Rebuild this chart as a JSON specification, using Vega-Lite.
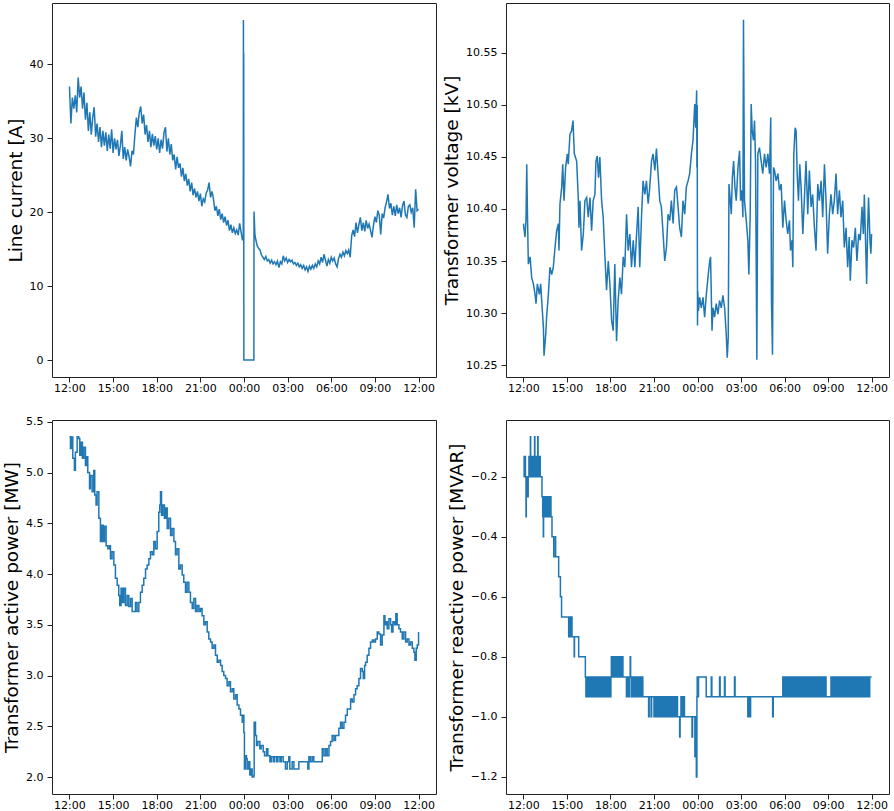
{
"$schema": "https://vega.github.io/schema/vega-lite/v6.json",
"padding": {"left": 2, "top": 2, "right": 0, "bottom": 0},
"background": "white",
"config": {
 "font": "DejaVu Sans",
 "view": {"stroke": "#222222", "strokeWidth": 1},
 "axis": {"grid": false, "domain": false, "tickColor": "#222222", "tickSize": 5, "labelFont": "DejaVu Sans", "labelFontSize": 11, "labelColor": "#000000", "labelFlush": false, "labelOverlap": false, "titleFont": "DejaVu Sans", "titleFontSize": 18.5, "titleFontWeight": "normal", "titleColor": "#000000", "titlePadding": 4},
 "axisX": {"labelPadding": 0},
 "axisY": {"labelPadding": 4},
 "line": {"color": "#1f77b4", "strokeWidth": 1.5, "clip": true}
},
"columns": 2,
"spacing": {"row": 21, "column": 5},
"datasets": {
"I": [
{"t":0.0,"v":37.0},{"t":0.1,"v":32.0},{"t":0.2,"v":35.5},{"t":0.3,"v":34.0},{"t":0.4,"v":35.8},{"t":0.5,"v":33.5},{"t":0.6,"v":38.2},{"t":0.7,"v":35.5},{"t":0.8,"v":37.0},{"t":0.9,"v":34.0},
{"t":1.0,"v":36.2},{"t":1.1,"v":32.5},{"t":1.2,"v":34.8},{"t":1.3,"v":31.0},{"t":1.4,"v":33.5},{"t":1.5,"v":30.5},{"t":1.6,"v":32.8},{"t":1.7,"v":34.2},{"t":1.8,"v":30.2},{"t":1.9,"v":32.0},
{"t":2.0,"v":29.5},{"t":2.1,"v":31.5},{"t":2.2,"v":28.8},{"t":2.3,"v":31.0},{"t":2.4,"v":29.0},{"t":2.5,"v":30.8},{"t":2.6,"v":28.3},{"t":2.7,"v":30.5},{"t":2.8,"v":28.6},{"t":2.9,"v":31.2},
{"t":3.0,"v":28.0},{"t":3.1,"v":30.0},{"t":3.2,"v":28.5},{"t":3.3,"v":29.8},{"t":3.4,"v":27.6},{"t":3.5,"v":29.0},{"t":3.6,"v":31.0},{"t":3.7,"v":27.2},{"t":3.8,"v":28.8},{"t":3.9,"v":27.0},
{"t":4.0,"v":28.5},{"t":4.1,"v":27.5},{"t":4.2,"v":26.2},{"t":4.3,"v":28.3},{"t":4.4,"v":27.8},{"t":4.5,"v":30.5},{"t":4.6,"v":32.8},{"t":4.7,"v":31.5},{"t":4.8,"v":33.5},{"t":4.9,"v":34.3},
{"t":5.0,"v":32.0},{"t":5.1,"v":33.2},{"t":5.2,"v":30.5},{"t":5.3,"v":31.8},{"t":5.4,"v":29.5},{"t":5.5,"v":31.0},{"t":5.6,"v":28.8},{"t":5.7,"v":30.6},{"t":5.8,"v":29.0},{"t":5.9,"v":30.3},
{"t":6.0,"v":28.5},{"t":6.1,"v":30.0},{"t":6.2,"v":28.0},{"t":6.3,"v":29.8},{"t":6.4,"v":28.6},{"t":6.5,"v":30.8},{"t":6.6,"v":31.5},{"t":6.7,"v":28.2},{"t":6.8,"v":30.0},{"t":6.9,"v":27.8},
{"t":7.0,"v":29.2},{"t":7.1,"v":27.0},{"t":7.2,"v":27.8},{"t":7.3,"v":25.8},{"t":7.4,"v":27.5},{"t":7.5,"v":26.0},{"t":7.6,"v":26.6},{"t":7.7,"v":24.8},{"t":7.8,"v":26.0},{"t":7.9,"v":24.2},
{"t":8.0,"v":25.2},{"t":8.1,"v":23.6},{"t":8.2,"v":24.5},{"t":8.3,"v":22.8},{"t":8.4,"v":24.0},{"t":8.5,"v":22.3},{"t":8.6,"v":23.2},{"t":8.7,"v":22.0},{"t":8.8,"v":22.8},{"t":8.9,"v":21.5},
{"t":9.0,"v":22.5},{"t":9.1,"v":20.8},{"t":9.2,"v":21.8},{"t":9.3,"v":21.4},{"t":9.4,"v":22.6},{"t":9.5,"v":23.0},{"t":9.6,"v":24.0},{"t":9.7,"v":22.0},{"t":9.8,"v":22.8},{"t":9.9,"v":21.8},
{"t":10.0,"v":20.2},{"t":10.1,"v":20.8},{"t":10.2,"v":19.5},{"t":10.3,"v":20.4},{"t":10.4,"v":19.0},{"t":10.5,"v":19.8},{"t":10.6,"v":18.6},{"t":10.7,"v":19.4},{"t":10.8,"v":18.2},{"t":10.9,"v":18.9},
{"t":11.0,"v":17.5},{"t":11.1,"v":18.3},{"t":11.2,"v":17.2},{"t":11.3,"v":17.9},{"t":11.4,"v":17.1},{"t":11.5,"v":17.6},{"t":11.6,"v":16.9},{"t":11.7,"v":18.5},{"t":11.8,"v":17.3},{"t":11.9,"v":16.2},
{"t":11.95,"v":16.5},{"t":11.96,"v":46.0},{"t":11.97,"v":17.0},{"t":11.98,"v":41.5},{"t":11.99,"v":0},{"t":12.68,"v":0},{"t":12.69,"v":20.1},{"t":12.75,"v":17.0},{"t":12.8,"v":16.4},{"t":12.9,"v":15.5},
{"t":13.0,"v":15.1},{"t":13.1,"v":14.9},{"t":13.2,"v":14.2},{"t":13.3,"v":13.9},{"t":13.4,"v":13.6},{"t":13.5,"v":14.0},{"t":13.6,"v":13.4},{"t":13.7,"v":13.6},{"t":13.8,"v":13.1},{"t":13.9,"v":13.5},
{"t":14.0,"v":13.0},{"t":14.1,"v":13.3},{"t":14.2,"v":12.9},{"t":14.3,"v":13.4},{"t":14.4,"v":12.5},{"t":14.5,"v":13.3},{"t":14.6,"v":13.0},{"t":14.7,"v":14.1},{"t":14.8,"v":13.4},{"t":14.9,"v":13.8},
{"t":15.0,"v":13.2},{"t":15.1,"v":13.6},{"t":15.2,"v":13.3},{"t":15.3,"v":13.5},{"t":15.4,"v":13.0},{"t":15.5,"v":13.2},{"t":15.6,"v":12.8},{"t":15.7,"v":13.1},{"t":15.8,"v":12.6},{"t":15.9,"v":12.9},
{"t":16.0,"v":12.4},{"t":16.1,"v":12.8},{"t":16.2,"v":12.2},{"t":16.3,"v":12.6},{"t":16.4,"v":12.0},{"t":16.5,"v":12.7},{"t":16.6,"v":12.3},{"t":16.7,"v":12.8},{"t":16.8,"v":12.4},{"t":16.9,"v":13.0},
{"t":17.0,"v":12.6},{"t":17.1,"v":13.4},{"t":17.2,"v":13.0},{"t":17.3,"v":13.9},{"t":17.4,"v":13.2},{"t":17.5,"v":14.3},{"t":17.6,"v":13.5},{"t":17.7,"v":12.7},{"t":17.8,"v":13.6},{"t":17.9,"v":13.1},
{"t":18.0,"v":13.9},{"t":18.1,"v":13.4},{"t":18.2,"v":13.8},{"t":18.3,"v":13.0},{"t":18.4,"v":12.6},{"t":18.5,"v":13.7},{"t":18.6,"v":14.3},{"t":18.7,"v":13.9},{"t":18.8,"v":14.6},{"t":18.9,"v":14.1},
{"t":19.0,"v":14.8},{"t":19.1,"v":14.4},{"t":19.2,"v":14.9},{"t":19.3,"v":13.9},{"t":19.4,"v":16.8},{"t":19.5,"v":17.6},{"t":19.6,"v":16.7},{"t":19.7,"v":18.6},{"t":19.8,"v":17.2},{"t":19.9,"v":18.3},
{"t":20.0,"v":19.3},{"t":20.1,"v":17.5},{"t":20.2,"v":18.6},{"t":20.3,"v":17.4},{"t":20.4,"v":18.9},{"t":20.5,"v":17.8},{"t":20.6,"v":18.4},{"t":20.7,"v":17.5},{"t":20.8,"v":16.6},{"t":20.9,"v":18.2},
{"t":21.0,"v":19.4},{"t":21.1,"v":18.6},{"t":21.2,"v":20.2},{"t":21.3,"v":19.6},{"t":21.4,"v":17.0},{"t":21.5,"v":19.8},{"t":21.6,"v":19.2},{"t":21.7,"v":20.6},{"t":21.8,"v":21.4},{"t":21.9,"v":22.4},
{"t":22.0,"v":20.5},{"t":22.1,"v":21.2},{"t":22.2,"v":19.6},{"t":22.3,"v":20.8},{"t":22.4,"v":19.5},{"t":22.5,"v":21.0},{"t":22.6,"v":19.8},{"t":22.7,"v":20.6},{"t":22.8,"v":19.3},{"t":22.9,"v":20.9},
{"t":23.0,"v":21.5},{"t":23.1,"v":19.6},{"t":23.2,"v":19.3},{"t":23.3,"v":20.8},{"t":23.4,"v":21.0},{"t":23.5,"v":20.0},{"t":23.6,"v":20.6},{"t":23.7,"v":17.9},{"t":23.8,"v":23.1},{"t":23.9,"v":20.2},{"t":24.0,"v":20.4}
],
"V": [
{"t":0.0,"v":10.386},{"t":0.11,"v":10.373},{"t":0.18,"v":10.39},{"t":0.23,"v":10.443},{"t":0.28,"v":10.395},{"t":0.34,"v":10.347},{"t":0.46,"v":10.354},{"t":0.57,"v":10.334},{"t":0.69,"v":10.328},{"t":0.8,"v":10.318},
{"t":0.87,"v":10.309},{"t":0.96,"v":10.328},{"t":1.1,"v":10.318},{"t":1.19,"v":10.328},{"t":1.26,"v":10.312},{"t":1.38,"v":10.286},{"t":1.42,"v":10.259},{"t":1.54,"v":10.28},{"t":1.6,"v":10.296},{"t":1.72,"v":10.318},
{"t":1.83,"v":10.344},{"t":1.95,"v":10.337},{"t":2.06,"v":10.344},{"t":2.18,"v":10.363},{"t":2.29,"v":10.379},{"t":2.41,"v":10.386},{"t":2.45,"v":10.36},{"t":2.52,"v":10.405},{"t":2.64,"v":10.421},{"t":2.71,"v":10.443},
{"t":2.8,"v":10.408},{"t":2.91,"v":10.44},{"t":3.03,"v":10.453},{"t":3.09,"v":10.443},{"t":3.21,"v":10.472},{"t":3.32,"v":10.475},{"t":3.42,"v":10.485},{"t":3.51,"v":10.453},{"t":3.67,"v":10.446},{"t":3.78,"v":10.411},
{"t":3.83,"v":10.382},{"t":3.9,"v":10.408},{"t":4.01,"v":10.36},{"t":4.13,"v":10.376},{"t":4.24,"v":10.408},{"t":4.36,"v":10.411},{"t":4.47,"v":10.392},{"t":4.59,"v":10.411},{"t":4.7,"v":10.379},{"t":4.81,"v":10.408},
{"t":4.93,"v":10.414},{"t":5.0,"v":10.446},{"t":5.09,"v":10.451},{"t":5.18,"v":10.43},{"t":5.27,"v":10.45},{"t":5.39,"v":10.408},{"t":5.5,"v":10.392},{"t":5.62,"v":10.354},{"t":5.73,"v":10.322},{"t":5.85,"v":10.35},
{"t":5.96,"v":10.328},{"t":6.08,"v":10.293},{"t":6.19,"v":10.283},{"t":6.3,"v":10.347},{"t":6.42,"v":10.273},{"t":6.53,"v":10.312},{"t":6.65,"v":10.334},{"t":6.76,"v":10.318},{"t":6.88,"v":10.354},{"t":6.99,"v":10.344},
{"t":7.11,"v":10.395},{"t":7.22,"v":10.36},{"t":7.34,"v":10.376},{"t":7.45,"v":10.344},{"t":7.57,"v":10.37},{"t":7.68,"v":10.344},{"t":7.79,"v":10.373},{"t":7.91,"v":10.402},{"t":8.02,"v":10.344},{"t":8.14,"v":10.392},
{"t":8.25,"v":10.427},{"t":8.37,"v":10.414},{"t":8.48,"v":10.427},{"t":8.6,"v":10.405},{"t":8.71,"v":10.421},{"t":8.83,"v":10.446},{"t":8.94,"v":10.453},{"t":9.06,"v":10.437},{"t":9.17,"v":10.458},{"t":9.28,"v":10.434},
{"t":9.4,"v":10.408},{"t":9.51,"v":10.402},{"t":9.63,"v":10.376},{"t":9.74,"v":10.35},{"t":9.86,"v":10.363},{"t":9.97,"v":10.395},{"t":10.09,"v":10.389},{"t":10.2,"v":10.408},{"t":10.32,"v":10.386},{"t":10.43,"v":10.418},
{"t":10.55,"v":10.421},{"t":10.66,"v":10.402},{"t":10.77,"v":10.382},{"t":10.89,"v":10.373},{"t":11.0,"v":10.408},{"t":11.12,"v":10.395},{"t":11.23,"v":10.421},{"t":11.35,"v":10.427},{"t":11.46,"v":10.434},{"t":11.58,"v":10.453},
{"t":11.69,"v":10.466},{"t":11.81,"v":10.501},{"t":11.88,"v":10.478},{"t":11.94,"v":10.514},{"t":11.96,"v":10.44},{"t":11.98,"v":10.5},{"t":12.0,"v":10.288},{"t":12.02,"v":10.321},{"t":12.06,"v":10.302},{"t":12.15,"v":10.315},
{"t":12.26,"v":10.305},{"t":12.38,"v":10.315},{"t":12.49,"v":10.296},{"t":12.61,"v":10.318},{"t":12.72,"v":10.334},{"t":12.84,"v":10.35},{"t":12.9,"v":10.354},{"t":13.0,"v":10.283},{"t":13.07,"v":10.305},{"t":13.18,"v":10.296},
{"t":13.29,"v":10.309},{"t":13.41,"v":10.299},{"t":13.52,"v":10.312},{"t":13.64,"v":10.305},{"t":13.75,"v":10.317},{"t":13.87,"v":10.305},{"t":13.98,"v":10.28},{"t":14.05,"v":10.257},{"t":14.12,"v":10.277},{"t":14.17,"v":10.424},
{"t":14.26,"v":10.408},{"t":14.33,"v":10.395},{"t":14.4,"v":10.43},{"t":14.49,"v":10.446},{"t":14.58,"v":10.421},{"t":14.67,"v":10.408},{"t":14.79,"v":10.44},{"t":14.9,"v":10.456},{"t":14.97,"v":10.408},{"t":15.06,"v":10.418},
{"t":15.13,"v":10.392},{"t":15.17,"v":10.582},{"t":15.24,"v":10.408},{"t":15.36,"v":10.389},{"t":15.47,"v":10.37},{"t":15.54,"v":10.337},{"t":15.63,"v":10.392},{"t":15.7,"v":10.501},{"t":15.77,"v":10.475},{"t":15.86,"v":10.466},
{"t":15.93,"v":10.485},{"t":16.0,"v":10.446},{"t":16.09,"v":10.255},{"t":16.16,"v":10.453},{"t":16.27,"v":10.459},{"t":16.39,"v":10.446},{"t":16.5,"v":10.434},{"t":16.62,"v":10.453},{"t":16.73,"v":10.44},{"t":16.85,"v":10.453},
{"t":16.96,"v":10.434},{"t":17.05,"v":10.488},{"t":17.1,"v":10.312},{"t":17.17,"v":10.26},{"t":17.24,"v":10.44},{"t":17.31,"v":10.437},{"t":17.42,"v":10.427},{"t":17.54,"v":10.434},{"t":17.65,"v":10.418},{"t":17.77,"v":10.424},
{"t":17.88,"v":10.382},{"t":18.0,"v":10.408},{"t":18.11,"v":10.389},{"t":18.22,"v":10.376},{"t":18.34,"v":10.389},{"t":18.41,"v":10.36},{"t":18.52,"v":10.37},{"t":18.57,"v":10.344},{"t":18.64,"v":10.453},{"t":18.73,"v":10.478},
{"t":18.8,"v":10.475},{"t":18.87,"v":10.434},{"t":18.96,"v":10.408},{"t":19.05,"v":10.443},{"t":19.14,"v":10.421},{"t":19.26,"v":10.376},{"t":19.37,"v":10.411},{"t":19.48,"v":10.446},{"t":19.6,"v":10.395},{"t":19.71,"v":10.437},
{"t":19.83,"v":10.402},{"t":19.94,"v":10.414},{"t":20.06,"v":10.382},{"t":20.17,"v":10.36},{"t":20.29,"v":10.424},{"t":20.4,"v":10.408},{"t":20.52,"v":10.427},{"t":20.63,"v":10.392},{"t":20.75,"v":10.443},{"t":20.86,"v":10.408},
{"t":20.97,"v":10.357},{"t":21.09,"v":10.395},{"t":21.2,"v":10.414},{"t":21.32,"v":10.395},{"t":21.43,"v":10.408},{"t":21.55,"v":10.434},{"t":21.66,"v":10.395},{"t":21.78,"v":10.418},{"t":21.89,"v":10.392},{"t":22.01,"v":10.408},
{"t":22.12,"v":10.363},{"t":22.24,"v":10.382},{"t":22.35,"v":10.344},{"t":22.46,"v":10.373},{"t":22.53,"v":10.331},{"t":22.65,"v":10.37},{"t":22.76,"v":10.363},{"t":22.88,"v":10.382},{"t":22.99,"v":10.35},{"t":23.11,"v":10.376},
{"t":23.22,"v":10.37},{"t":23.34,"v":10.402},{"t":23.43,"v":10.376},{"t":23.5,"v":10.414},{"t":23.57,"v":10.376},{"t":23.66,"v":10.328},{"t":23.73,"v":10.382},{"t":23.79,"v":10.411},{"t":23.89,"v":10.37},{"t":23.95,"v":10.357},{"t":24.0,"v":10.376}
],
"P": [
{"t":0.0,"v":5.352},{"t":0.07,"v":5.237},{"t":0.14,"v":5.35},{"t":0.23,"v":5.14},{"t":0.34,"v":5.023},{"t":0.41,"v":5.2},{"t":0.53,"v":5.352},{"t":0.64,"v":5.336},{"t":0.71,"v":5.17},{"t":0.8,"v":5.3},
{"t":0.89,"v":5.14},{"t":0.99,"v":5.25},{"t":1.1,"v":5.07},{"t":1.17,"v":5.155},{"t":1.26,"v":5.0},{"t":1.38,"v":4.84},{"t":1.44,"v":4.97},{"t":1.56,"v":4.81},{"t":1.67,"v":5.02},{"t":1.74,"v":4.78},
{"t":1.83,"v":4.68},{"t":1.9,"v":4.81},{"t":2.02,"v":4.55},{"t":2.13,"v":4.32},{"t":2.22,"v":4.48},{"t":2.32,"v":4.32},{"t":2.41,"v":4.47},{"t":2.52,"v":4.28},{"t":2.64,"v":4.25},{"t":2.75,"v":4.28},
{"t":2.82,"v":4.15},{"t":2.93,"v":4.22},{"t":3.05,"v":4.09},{"t":3.16,"v":3.96},{"t":3.28,"v":3.89},{"t":3.39,"v":3.79},{"t":3.46,"v":3.69},{"t":3.55,"v":3.86},{"t":3.65,"v":3.72},{"t":3.74,"v":3.86},
{"t":3.85,"v":3.69},{"t":3.97,"v":3.79},{"t":4.08,"v":3.68},{"t":4.2,"v":3.76},{"t":4.31,"v":3.63},{"t":4.42,"v":3.63},{"t":4.54,"v":3.72},{"t":4.65,"v":3.63},{"t":4.77,"v":3.72},{"t":4.88,"v":3.82},
{"t":5.0,"v":3.89},{"t":5.11,"v":3.96},{"t":5.23,"v":4.05},{"t":5.34,"v":4.09},{"t":5.46,"v":4.15},{"t":5.57,"v":4.22},{"t":5.69,"v":4.19},{"t":5.8,"v":4.32},{"t":5.91,"v":4.25},{"t":6.03,"v":4.42},
{"t":6.14,"v":4.61},{"t":6.21,"v":4.68},{"t":6.26,"v":4.81},{"t":6.33,"v":4.58},{"t":6.42,"v":4.68},{"t":6.53,"v":4.55},{"t":6.63,"v":4.65},{"t":6.72,"v":4.45},{"t":6.83,"v":4.55},{"t":6.95,"v":4.38},
{"t":7.06,"v":4.45},{"t":7.18,"v":4.32},{"t":7.29,"v":4.19},{"t":7.4,"v":4.25},{"t":7.52,"v":4.05},{"t":7.63,"v":4.09},{"t":7.75,"v":3.99},{"t":7.86,"v":3.92},{"t":7.98,"v":3.82},{"t":8.09,"v":3.92},
{"t":8.21,"v":3.82},{"t":8.32,"v":3.72},{"t":8.44,"v":3.66},{"t":8.55,"v":3.76},{"t":8.67,"v":3.63},{"t":8.78,"v":3.69},{"t":8.9,"v":3.63},{"t":9.01,"v":3.66},{"t":9.12,"v":3.59},{"t":9.24,"v":3.5},
{"t":9.35,"v":3.53},{"t":9.47,"v":3.43},{"t":9.58,"v":3.36},{"t":9.7,"v":3.33},{"t":9.81,"v":3.27},{"t":9.93,"v":3.3},{"t":10.04,"v":3.2},{"t":10.16,"v":3.13},{"t":10.27,"v":3.15},{"t":10.39,"v":3.1},
{"t":10.5,"v":3.04},{"t":10.61,"v":3.0},{"t":10.73,"v":2.97},{"t":10.84,"v":2.9},{"t":10.96,"v":2.94},{"t":11.07,"v":2.84},{"t":11.19,"v":2.87},{"t":11.3,"v":2.77},{"t":11.42,"v":2.81},{"t":11.53,"v":2.71},
{"t":11.65,"v":2.67},{"t":11.76,"v":2.61},{"t":11.88,"v":2.54},{"t":11.94,"v":2.61},{"t":11.99,"v":2.44},{"t":12.03,"v":2.08},{"t":12.1,"v":2.21},{"t":12.17,"v":2.18},{"t":12.22,"v":2.08},{"t":12.33,"v":2.15},
{"t":12.4,"v":2.02},{"t":12.49,"v":2.08},{"t":12.56,"v":2.0},{"t":12.68,"v":2.02},{"t":12.7,"v":2.54},{"t":12.79,"v":2.41},{"t":12.86,"v":2.31},{"t":12.95,"v":2.35},{"t":13.09,"v":2.28},{"t":13.18,"v":2.31},
{"t":13.32,"v":2.25},{"t":13.41,"v":2.21},{"t":13.55,"v":2.28},{"t":13.64,"v":2.21},{"t":13.78,"v":2.15},{"t":13.87,"v":2.2},{"t":14.01,"v":2.15},{"t":14.1,"v":2.2},{"t":14.24,"v":2.15},{"t":14.33,"v":2.2},
{"t":14.47,"v":2.15},{"t":14.56,"v":2.2},{"t":14.69,"v":2.15},{"t":14.85,"v":2.08},{"t":14.97,"v":2.15},{"t":15.08,"v":2.2},{"t":15.15,"v":2.08},{"t":15.31,"v":2.15},{"t":15.43,"v":2.08},{"t":15.66,"v":2.08},
{"t":15.77,"v":2.15},{"t":16.12,"v":2.15},{"t":16.35,"v":2.15},{"t":16.39,"v":2.08},{"t":16.46,"v":2.2},{"t":16.57,"v":2.15},{"t":16.69,"v":2.2},{"t":16.8,"v":2.15},{"t":17.26,"v":2.15},{"t":17.38,"v":2.28},
{"t":17.49,"v":2.21},{"t":17.61,"v":2.28},{"t":17.72,"v":2.21},{"t":17.84,"v":2.31},{"t":17.95,"v":2.35},{"t":18.06,"v":2.41},{"t":18.18,"v":2.36},{"t":18.29,"v":2.41},{"t":18.41,"v":2.41},{"t":18.52,"v":2.48},
{"t":18.64,"v":2.54},{"t":18.75,"v":2.48},{"t":18.87,"v":2.54},{"t":18.98,"v":2.61},{"t":19.1,"v":2.67},{"t":19.21,"v":2.67},{"t":19.33,"v":2.77},{"t":19.44,"v":2.74},{"t":19.56,"v":2.81},{"t":19.67,"v":2.87},
{"t":19.78,"v":2.9},{"t":19.9,"v":2.97},{"t":20.01,"v":3.07},{"t":20.13,"v":3.04},{"t":20.2,"v":2.97},{"t":20.29,"v":3.1},{"t":20.36,"v":3.13},{"t":20.47,"v":3.2},{"t":20.59,"v":3.27},{"t":20.7,"v":3.33},
{"t":20.82,"v":3.35},{"t":20.93,"v":3.33},{"t":21.04,"v":3.36},{"t":21.16,"v":3.43},{"t":21.27,"v":3.41},{"t":21.39,"v":3.3},{"t":21.5,"v":3.4},{"t":21.62,"v":3.59},{"t":21.69,"v":3.5},{"t":21.78,"v":3.53},
{"t":21.85,"v":3.46},{"t":21.96,"v":3.56},{"t":22.08,"v":3.5},{"t":22.15,"v":3.43},{"t":22.24,"v":3.53},{"t":22.35,"v":3.5},{"t":22.44,"v":3.61},{"t":22.53,"v":3.5},{"t":22.65,"v":3.46},{"t":22.76,"v":3.43},
{"t":22.88,"v":3.36},{"t":22.99,"v":3.43},{"t":23.11,"v":3.33},{"t":23.22,"v":3.36},{"t":23.34,"v":3.3},{"t":23.45,"v":3.33},{"t":23.57,"v":3.27},{"t":23.68,"v":3.23},{"t":23.75,"v":3.15},{"t":23.84,"v":3.27},{"t":23.91,"v":3.3},{"t":24.0,"v":3.43}
],
"Q": [
{"t":0.0,"v":-0.133},{"t":0.05,"v":-0.2},{"t":0.1,"v":-0.133},{"t":0.14,"v":-0.2},{"t":0.18,"v":-0.333},{"t":0.2,"v":-0.267},{"t":0.24,"v":-0.2},{"t":0.3,"v":-0.267},{"t":0.33,"v":-0.2},{"t":0.38,"v":-0.133},
{"t":0.42,"v":-0.2},{"t":0.46,"v":-0.133},{"t":0.48,"v":-0.067},{"t":0.5,"v":-0.133},{"t":0.54,"v":-0.2},{"t":0.58,"v":-0.133},{"t":0.62,"v":-0.2},{"t":0.66,"v":-0.133},{"t":0.7,"v":-0.2},{"t":0.74,"v":-0.133},
{"t":0.77,"v":-0.067},{"t":0.79,"v":-0.133},{"t":0.84,"v":-0.2},{"t":0.88,"v":-0.133},{"t":0.92,"v":-0.2},{"t":0.96,"v":-0.133},{"t":0.99,"v":-0.067},{"t":1.01,"v":-0.133},{"t":1.06,"v":-0.2},{"t":1.12,"v":-0.133},
{"t":1.16,"v":-0.2},{"t":1.28,"v":-0.267},{"t":1.33,"v":-0.333},{"t":1.37,"v":-0.4},{"t":1.39,"v":-0.267},{"t":1.44,"v":-0.333},{"t":1.48,"v":-0.267},{"t":1.53,"v":-0.333},{"t":1.57,"v":-0.267},{"t":1.62,"v":-0.333},
{"t":1.66,"v":-0.267},{"t":1.71,"v":-0.333},{"t":1.75,"v":-0.267},{"t":1.8,"v":-0.333},{"t":1.84,"v":-0.267},{"t":1.9,"v":-0.333},{"t":1.97,"v":-0.4},{"t":2.09,"v":-0.467},{"t":2.2,"v":-0.4},{"t":2.22,"v":-0.467},
{"t":2.43,"v":-0.533},{"t":2.55,"v":-0.6},{"t":2.63,"v":-0.667},{"t":3.12,"v":-0.733},{"t":3.16,"v":-0.667},{"t":3.2,"v":-0.733},{"t":3.24,"v":-0.667},{"t":3.28,"v":-0.733},{"t":3.31,"v":-0.667},{"t":3.35,"v":-0.733},
{"t":3.5,"v":-0.8},{"t":3.52,"v":-0.733},{"t":3.81,"v":-0.8},{"t":4.27,"v":-0.867},{"t":4.31,"v":-0.933},{"t":4.35,"v":-0.867},{"t":4.39,"v":-0.933},{"t":4.44,"v":-0.867},{"t":4.48,"v":-0.933},{"t":4.53,"v":-0.867},
{"t":4.56,"v":-0.933},{"t":4.6,"v":-0.867},{"t":4.65,"v":-0.933},{"t":4.69,"v":-0.867},{"t":4.72,"v":-0.933},{"t":4.76,"v":-0.867},{"t":4.8,"v":-0.933},{"t":4.85,"v":-0.867},{"t":4.89,"v":-0.933},{"t":4.92,"v":-0.867},
{"t":4.96,"v":-0.933},{"t":5.0,"v":-0.867},{"t":5.05,"v":-0.933},{"t":5.09,"v":-0.867},{"t":5.13,"v":-0.933},{"t":5.17,"v":-0.867},{"t":5.21,"v":-0.933},{"t":5.26,"v":-0.867},{"t":5.3,"v":-0.933},{"t":5.34,"v":-0.867},
{"t":5.38,"v":-0.933},{"t":5.43,"v":-0.867},{"t":5.47,"v":-0.933},{"t":5.51,"v":-0.867},{"t":5.55,"v":-0.933},{"t":5.6,"v":-0.867},{"t":5.64,"v":-0.933},{"t":5.68,"v":-0.867},{"t":5.72,"v":-0.933},{"t":5.77,"v":-0.867},
{"t":5.81,"v":-0.933},{"t":5.85,"v":-0.867},{"t":5.9,"v":-0.933},{"t":5.94,"v":-0.867},{"t":5.98,"v":-0.933},{"t":6.03,"v":-0.867},{"t":6.06,"v":-0.8},{"t":6.1,"v":-0.867},{"t":6.14,"v":-0.8},{"t":6.18,"v":-0.867},
{"t":6.22,"v":-0.8},{"t":6.27,"v":-0.867},{"t":6.31,"v":-0.8},{"t":6.35,"v":-0.867},{"t":6.39,"v":-0.8},{"t":6.44,"v":-0.867},{"t":6.48,"v":-0.8},{"t":6.52,"v":-0.867},{"t":6.56,"v":-0.8},{"t":6.6,"v":-0.867},
{"t":6.65,"v":-0.8},{"t":6.69,"v":-0.867},{"t":6.73,"v":-0.8},{"t":6.78,"v":-0.867},{"t":6.82,"v":-0.8},{"t":6.86,"v":-0.867},{"t":7.1,"v":-0.933},{"t":7.14,"v":-0.867},{"t":7.18,"v":-0.933},{"t":7.22,"v":-0.867},
{"t":7.26,"v":-0.933},{"t":7.3,"v":-0.867},{"t":7.36,"v":-0.8},{"t":7.39,"v":-0.867},{"t":7.43,"v":-0.933},{"t":7.47,"v":-0.867},{"t":7.52,"v":-0.933},{"t":7.56,"v":-0.867},{"t":7.6,"v":-0.933},{"t":7.65,"v":-0.867},
{"t":7.69,"v":-0.933},{"t":7.74,"v":-0.867},{"t":7.78,"v":-0.933},{"t":7.83,"v":-0.867},{"t":7.87,"v":-0.933},{"t":7.92,"v":-0.867},{"t":7.96,"v":-0.933},{"t":8.01,"v":-0.867},{"t":8.05,"v":-0.933},{"t":8.1,"v":-0.867},
{"t":8.14,"v":-0.933},{"t":8.19,"v":-0.867},{"t":8.23,"v":-0.933},{"t":8.63,"v":-1.0},{"t":8.67,"v":-0.933},{"t":8.8,"v":-1.0},{"t":8.84,"v":-0.933},{"t":9.0,"v":-1.0},{"t":9.04,"v":-0.933},{"t":9.1,"v":-1.0},
{"t":9.14,"v":-0.933},{"t":9.2,"v":-1.0},{"t":9.26,"v":-0.933},{"t":9.3,"v":-1.0},{"t":9.34,"v":-0.933},{"t":9.38,"v":-1.0},{"t":9.42,"v":-0.933},{"t":9.46,"v":-1.0},{"t":9.5,"v":-0.933},{"t":9.54,"v":-1.0},
{"t":9.58,"v":-0.933},{"t":9.62,"v":-1.0},{"t":9.66,"v":-0.933},{"t":9.7,"v":-1.0},{"t":9.75,"v":-0.933},{"t":9.8,"v":-1.0},{"t":9.84,"v":-0.933},{"t":9.92,"v":-1.0},{"t":9.96,"v":-0.933},{"t":10.04,"v":-1.0},
{"t":10.08,"v":-0.933},{"t":10.15,"v":-1.0},{"t":10.19,"v":-0.933},{"t":10.26,"v":-1.0},{"t":10.3,"v":-0.933},{"t":10.38,"v":-1.0},{"t":10.42,"v":-0.933},{"t":10.5,"v":-1.0},{"t":10.54,"v":-0.933},{"t":10.62,"v":-1.0},
{"t":10.77,"v":-1.067},{"t":10.8,"v":-1.0},{"t":10.86,"v":-0.933},{"t":10.9,"v":-1.0},{"t":10.96,"v":-0.933},{"t":11.0,"v":-1.0},{"t":11.04,"v":-0.933},{"t":11.1,"v":-1.0},{"t":11.62,"v":-1.067},{"t":11.66,"v":-1.0},
{"t":11.82,"v":-1.133},{"t":11.88,"v":-1.0},{"t":11.92,"v":-1.2},{"t":11.96,"v":-0.933},{"t":11.98,"v":-0.867},{"t":12.04,"v":-0.933},{"t":12.07,"v":-0.867},{"t":12.6,"v":-0.933},{"t":12.95,"v":-0.867},{"t":12.99,"v":-0.933},
{"t":13.52,"v":-0.867},{"t":13.56,"v":-0.933},{"t":13.86,"v":-0.867},{"t":13.9,"v":-0.933},{"t":14.55,"v":-0.867},{"t":14.59,"v":-0.933},{"t":15.47,"v":-1.0},{"t":15.51,"v":-0.933},{"t":15.54,"v":-1.0},{"t":15.58,"v":-0.933},
{"t":15.61,"v":-1.0},{"t":15.66,"v":-0.933},{"t":17.18,"v":-1.0},{"t":17.22,"v":-0.933},{"t":17.88,"v":-0.867},{"t":17.91,"v":-0.933},{"t":17.96,"v":-0.867},{"t":18.0,"v":-0.933},{"t":18.05,"v":-0.867},{"t":18.1,"v":-0.933},
{"t":18.13,"v":-0.867},{"t":18.18,"v":-0.933},{"t":18.22,"v":-0.867},{"t":18.27,"v":-0.933},{"t":18.31,"v":-0.867},{"t":18.35,"v":-0.933},{"t":18.4,"v":-0.867},{"t":18.45,"v":-0.933},{"t":18.49,"v":-0.867},{"t":18.53,"v":-0.933},
{"t":18.58,"v":-0.867},{"t":18.62,"v":-0.933},{"t":18.67,"v":-0.867},{"t":18.71,"v":-0.933},{"t":18.76,"v":-0.867},{"t":18.8,"v":-0.933},{"t":18.84,"v":-0.867},{"t":18.89,"v":-0.933},{"t":18.93,"v":-0.867},{"t":18.98,"v":-0.933},
{"t":19.02,"v":-0.867},{"t":19.07,"v":-0.933},{"t":19.11,"v":-0.867},{"t":19.16,"v":-0.933},{"t":19.2,"v":-0.867},{"t":19.25,"v":-0.933},{"t":19.29,"v":-0.867},{"t":19.34,"v":-0.933},{"t":19.38,"v":-0.867},{"t":19.43,"v":-0.933},
{"t":19.47,"v":-0.867},{"t":19.52,"v":-0.933},{"t":19.56,"v":-0.867},{"t":19.61,"v":-0.933},{"t":19.65,"v":-0.867},{"t":19.7,"v":-0.933},{"t":19.74,"v":-0.867},{"t":19.79,"v":-0.933},{"t":19.83,"v":-0.867},{"t":19.88,"v":-0.933},
{"t":19.92,"v":-0.867},{"t":19.97,"v":-0.933},{"t":20.02,"v":-0.867},{"t":20.07,"v":-0.933},{"t":20.13,"v":-0.867},{"t":20.18,"v":-0.933},{"t":20.24,"v":-0.867},{"t":20.29,"v":-0.933},{"t":20.35,"v":-0.867},{"t":20.4,"v":-0.933},
{"t":20.46,"v":-0.867},{"t":20.51,"v":-0.933},{"t":20.58,"v":-0.867},{"t":20.62,"v":-0.933},{"t":20.7,"v":-0.867},{"t":20.74,"v":-0.933},{"t":20.82,"v":-0.867},{"t":20.86,"v":-0.933},{"t":21.2,"v":-0.867},{"t":21.24,"v":-0.933},
{"t":21.28,"v":-0.867},{"t":21.33,"v":-0.933},{"t":21.37,"v":-0.867},{"t":21.42,"v":-0.933},{"t":21.46,"v":-0.867},{"t":21.51,"v":-0.933},{"t":21.55,"v":-0.867},{"t":21.6,"v":-0.933},{"t":21.64,"v":-0.867},{"t":21.69,"v":-0.933},
{"t":21.73,"v":-0.867},{"t":21.78,"v":-0.933},{"t":21.82,"v":-0.867},{"t":21.87,"v":-0.933},{"t":21.91,"v":-0.867},{"t":21.96,"v":-0.933},{"t":22.0,"v":-0.867},{"t":22.05,"v":-0.933},{"t":22.09,"v":-0.867},{"t":22.14,"v":-0.933},
{"t":22.18,"v":-0.867},{"t":22.23,"v":-0.933},{"t":22.27,"v":-0.867},{"t":22.32,"v":-0.933},{"t":22.36,"v":-0.867},{"t":22.41,"v":-0.933},{"t":22.45,"v":-0.867},{"t":22.5,"v":-0.933},{"t":22.54,"v":-0.867},{"t":22.59,"v":-0.933},
{"t":22.63,"v":-0.867},{"t":22.68,"v":-0.933},{"t":22.72,"v":-0.867},{"t":22.77,"v":-0.933},{"t":22.81,"v":-0.867},{"t":22.86,"v":-0.933},{"t":22.9,"v":-0.867},{"t":22.95,"v":-0.933},{"t":22.99,"v":-0.867},{"t":23.04,"v":-0.933},
{"t":23.08,"v":-0.867},{"t":23.13,"v":-0.933},{"t":23.17,"v":-0.867},{"t":23.22,"v":-0.933},{"t":23.26,"v":-0.867},{"t":23.31,"v":-0.933},{"t":23.35,"v":-0.867},{"t":23.4,"v":-0.933},{"t":23.44,"v":-0.867},{"t":23.49,"v":-0.933},
{"t":23.53,"v":-0.867},{"t":23.58,"v":-0.933},{"t":23.62,"v":-0.867},{"t":23.67,"v":-0.933},{"t":23.71,"v":-0.867},{"t":23.76,"v":-0.933},{"t":23.8,"v":-0.867},{"t":23.84,"v":-0.933},{"t":23.87,"v":-0.867},{"t":24.0,"v":-0.867}
]
},
"concat": [
{
 "width": 384, "height": 374,
 "data": {"name": "I"},
 "mark": {"type": "line"},
 "encoding": {
  "x": {"field": "t", "type": "quantitative", "scale": {"domain": [-1.2, 25.2], "nice": false, "zero": false}, "axis": {"title": null, "values": [0,3,6,9,12,15,18,21,24], "labelExpr": "format((datum.value + 12) % 24, '02d') + ':00'"}},
  "y": {"field": "v", "type": "quantitative", "scale": {"domain": [-2.3, 48.3], "nice": false, "zero": false}, "axis": {"title": "Line current [A]", "values": [0,10,20,30,40], "format": "d"}}
 }
},
{
 "width": 383, "height": 374,
 "data": {"name": "V"},
 "mark": {"type": "line"},
 "encoding": {
  "x": {"field": "t", "type": "quantitative", "scale": {"domain": [-1.2, 25.2], "nice": false, "zero": false}, "axis": {"title": null, "values": [0,3,6,9,12,15,18,21,24], "labelExpr": "format((datum.value + 12) % 24, '02d') + ':00'"}},
  "y": {"field": "v", "type": "quantitative", "scale": {"domain": [10.2385, 10.598], "nice": false, "zero": false}, "axis": {"title": "Transformer voltage [kV]", "values": [10.25,10.3,10.35,10.4,10.45,10.5,10.55], "format": ".2f"}}
 }
},
{
 "width": 384, "height": 374,
 "data": {"name": "P"},
 "mark": {"type": "line", "interpolate": "step-after"},
 "encoding": {
  "x": {"field": "t", "type": "quantitative", "scale": {"domain": [-1.2, 25.2], "nice": false, "zero": false}, "axis": {"title": null, "values": [0,3,6,9,12,15,18,21,24], "labelExpr": "format((datum.value + 12) % 24, '02d') + ':00'"}},
  "y": {"field": "v", "type": "quantitative", "scale": {"domain": [1.833, 5.518], "nice": false, "zero": false}, "axis": {"title": "Transformer active power [MW]", "values": [2.0,2.5,3.0,3.5,4.0,4.5,5.0,5.5], "format": ".1f"}}
 }
},
{
 "width": 383, "height": 374,
 "data": {"name": "Q"},
 "mark": {"type": "line", "interpolate": "step-after"},
 "encoding": {
  "x": {"field": "t", "type": "quantitative", "scale": {"domain": [-1.2, 25.2], "nice": false, "zero": false}, "axis": {"title": null, "values": [0,3,6,9,12,15,18,21,24], "labelExpr": "format((datum.value + 12) % 24, '02d') + ':00'"}},
  "y": {"field": "v", "type": "quantitative", "scale": {"domain": [-1.257, -0.011], "nice": false, "zero": false}, "axis": {"title": "Transformer reactive power [MVAR]", "values": [-1.2,-1.0,-0.8,-0.6,-0.4,-0.2], "format": ".1f"}}
 }
}
]
}
